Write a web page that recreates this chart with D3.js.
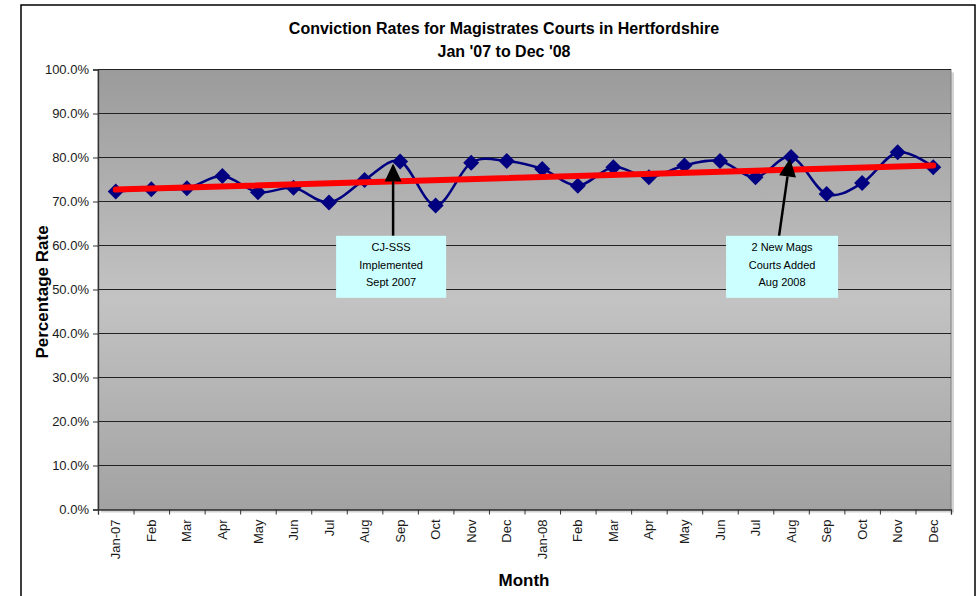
<!DOCTYPE html>
<html>
<head>
<meta charset="utf-8">
<script src="https://cdn.jsdelivr.net/npm/d3@7"></script>
<style>
  body { margin: 0; background: #fff; }
  text { font-family: "Liberation Sans", Arial, sans-serif; }
</style>
</head>
<body>
<div id="container"></div>
<script>
// month labels along the x axis
const months = ["Jan-07","Feb","Mar","Apr","May","Jun","Jul","Aug","Sep","Oct","Nov","Dec",
                "Jan-08","Feb","Mar","Apr","May","Jun","Jul","Aug","Sep","Oct","Nov","Dec"];
// conviction rate (%)
const rates = [72.3, 72.8, 73.0, 75.8, 72.1, 73.1, 69.8, 74.9, 79.1, 69.1, 78.8, 79.2,
               77.4, 73.6, 77.8, 75.5, 78.2, 79.2, 75.5, 80.1, 71.7, 74.2, 81.2, 77.8];
// linear trend, value at first and last month
const trendEnds = [72.7, 78.2];
const yTicks = [0, 10, 20, 30, 40, 50, 60, 70, 80, 90, 100];
const notes = [
  { month: 8, lines: ["CJ-SSS", "Implemented", "Sept 2007"] },
  { month: 19, lines: ["2 New Mags", "Courts Added", "Aug 2008"] }
];

const width = 977, height = 596;
const marginLeft = 98, marginRight = 26, marginTop = 69.5, marginBottom = 86.5;

const svg = d3.select("#container").append("svg")
    .attr("width", width)
    .attr("height", height)
    .attr("viewBox", [0, 0, width, height]);

// outer chart border
svg.append("rect")
    .attr("x", 21).attr("y", 5)
    .attr("width", 954).attr("height", 620)
    .attr("fill", "#fff").attr("stroke", "#000").attr("stroke-width", 1.5);

const x = d3.scaleBand()
    .domain(d3.range(months.length))
    .range([marginLeft, width - marginRight]);
const xi = d3.scaleLinear()
    .domain([0, months.length])
    .range([marginLeft, width - marginRight]);
const y = d3.scaleLinear()
    .domain([0, 100])
    .range([height - marginBottom, marginTop]);

const cx = i => x(i) + x.bandwidth() / 2;

// plot area gradient
const grad = svg.append("defs").append("linearGradient")
    .attr("id", "bg").attr("x1", 0).attr("y1", 0).attr("x2", 0).attr("y2", 1);
grad.append("stop").attr("offset", "0%").attr("stop-color", "#9b9b9b");
grad.append("stop").attr("offset", "52%").attr("stop-color", "#c3c3c3");
grad.append("stop").attr("offset", "100%").attr("stop-color", "#a2a2a2");

svg.append("rect")
    .attr("x", marginLeft + 3).attr("y", marginTop + 3)
    .attr("width", width - marginRight - marginLeft)
    .attr("height", height - marginBottom - marginTop)
    .attr("fill", "#d4d4d4");
svg.append("rect")
    .attr("x", marginLeft).attr("y", marginTop)
    .attr("width", width - marginRight - marginLeft)
    .attr("height", height - marginBottom - marginTop)
    .attr("fill", "url(#bg)")
    .attr("stroke", "#808080");

// gridlines
svg.append("g")
    .selectAll("line")
    .data(yTicks.slice(1))
    .join("line")
    .attr("x1", marginLeft).attr("x2", width - marginRight)
    .attr("y1", d => y(d)).attr("y2", d => y(d))
    .attr("stroke", "#222").attr("stroke-width", 1);

// y axis
svg.append("g")
    .attr("transform", `translate(${marginLeft},0)`)
    .call(d3.axisLeft(y).tickValues(yTicks).tickSize(5).tickPadding(4)
        .tickFormat(d => d.toFixed(1) + "%"))
    .call(g => g.select(".domain").attr("stroke", "#333").attr("stroke-width", 1.3))
    .call(g => g.selectAll(".tick line").attr("stroke", "#333"))
    .call(g => g.selectAll("text").attr("font-size", 13).attr("fill", "#1a1a1a")
        .attr("font-family", "Liberation Sans, Arial, sans-serif"));

// x axis: boundary ticks
svg.append("g")
    .attr("transform", `translate(0,${height - marginBottom})`)
    .call(d3.axisBottom(xi).ticks(months.length).tickSize(5).tickFormat(""))
    .call(g => g.select(".domain").attr("stroke", "#333").attr("stroke-width", 1.3))
    .call(g => g.selectAll(".tick line").attr("stroke", "#333"));

// x axis: labels
svg.append("g")
    .attr("transform", `translate(0,${height - marginBottom})`)
    .call(d3.axisBottom(x).tickSize(0).tickFormat(i => months[i]))
    .call(g => g.select(".domain").remove())
    .call(g => g.selectAll("text")
        .attr("transform", "rotate(-90)")
        .attr("x", -10).attr("y", 0).attr("dy", "0.35em")
        .attr("text-anchor", "end")
        .attr("font-size", 13).attr("fill", "#1a1a1a")
        .attr("font-family", "Liberation Sans, Arial, sans-serif"));

// data line (smoothed)
const line = d3.line()
    .x((d, i) => cx(i))
    .y(d => y(d))
    .curve(d3.curveCardinal.tension(0));

svg.append("path")
    .datum(rates)
    .attr("fill", "none")
    .attr("stroke", "#000080")
    .attr("stroke-width", 2.5)
    .attr("d", line);

svg.append("g")
    .attr("fill", "#000080")
    .selectAll("path")
    .data(rates)
    .join("path")
    .attr("transform", (d, i) => `translate(${cx(i)},${y(d)}) rotate(45)`)
    .attr("d", d3.symbol(d3.symbolSquare, 128));

// trend line
svg.append("line")
    .attr("x1", cx(0)).attr("y1", y(trendEnds[0]))
    .attr("x2", cx(months.length - 1)).attr("y2", y(trendEnds[1]))
    .attr("stroke", "#ff0000")
    .attr("stroke-width", 6)
    .attr("stroke-linecap", "round");

// annotations
const noteLayout = [
  { boxDx: -9, boxW: 110, tailDx: 2, tipDx: -7, tipDy: 2 },
  { boxDx: -9, boxW: 112, tailDx: -3, tipDx: -1, tipDy: 1.5 }
];
const boxTop = y(62.2), boxH = 62;

notes.forEach((n, k) => {
  const L = noteLayout[k];
  const bx = cx(n.month) + L.boxDx;
  const g = svg.append("g");
  const tail = [bx + L.tailDx, boxTop];
  const tip = [cx(n.month) + L.tipDx, y(rates[n.month]) + L.tipDy];
  const dx = tip[0] - tail[0], dy = tip[1] - tail[1];
  const len = Math.hypot(dx, dy), ux = dx / len, uy = dy / len;
  const headL = 18, headW = 8.5;
  const base = [tip[0] - ux * headL, tip[1] - uy * headL];
  g.append("line")
      .attr("x1", tail[0]).attr("y1", tail[1])
      .attr("x2", base[0]).attr("y2", base[1])
      .attr("stroke", "#000").attr("stroke-width", 2.5);
  g.append("path")
      .attr("d", d3.line()([
        tip,
        [base[0] - uy * headW, base[1] + ux * headW],
        [base[0] + uy * headW, base[1] - ux * headW]
      ]) + "Z")
      .attr("fill", "#000");
  g.append("rect")
      .attr("x", bx - L.boxW / 2).attr("y", boxTop)
      .attr("width", L.boxW).attr("height", boxH)
      .attr("fill", "#ccffff");
  g.selectAll("text")
      .data(n.lines)
      .join("text")
      .attr("x", bx)
      .attr("y", (d, i) => boxTop + 15.5 + i * 17.3)
      .attr("text-anchor", "middle")
      .attr("font-size", 11)
      .attr("fill", "#000")
      .text(d => d);
});

// titles
svg.append("text")
    .attr("x", 504).attr("y", 34)
    .attr("text-anchor", "middle")
    .attr("font-size", 16).attr("font-weight", "bold")
    .text("Conviction Rates for Magistrates Courts in Hertfordshire");
svg.append("text")
    .attr("x", 504).attr("y", 57)
    .attr("text-anchor", "middle")
    .attr("font-size", 16).attr("font-weight", "bold")
    .text("Jan '07 to Dec '08");

svg.append("text")
    .attr("transform", "translate(48,292) rotate(-90)")
    .attr("text-anchor", "middle")
    .attr("font-size", 17).attr("font-weight", "bold")
    .text("Percentage Rate");

svg.append("text")
    .attr("x", 524).attr("y", 586)
    .attr("text-anchor", "middle")
    .attr("font-size", 17).attr("font-weight", "bold")
    .text("Month");
</script>
</body>
</html>
